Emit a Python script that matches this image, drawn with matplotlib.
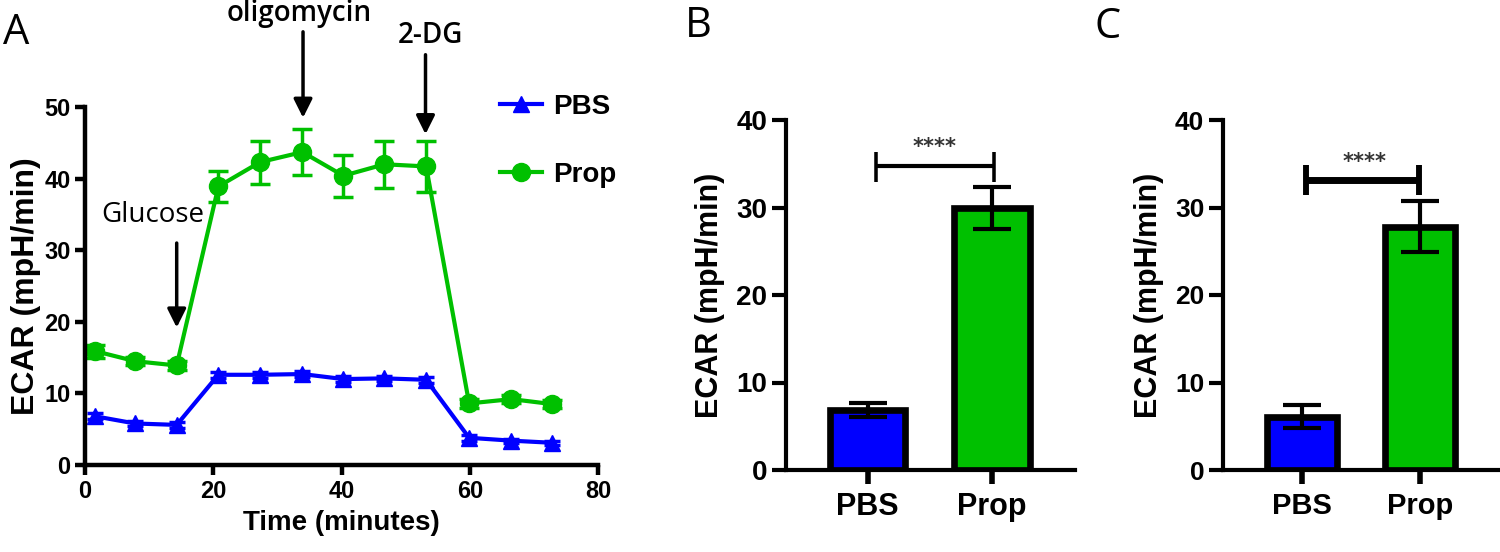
import numpy as np
import matplotlib
matplotlib.use("Agg")
import matplotlib.pyplot as plt
from matplotlib.lines import Line2D

plt.rcParams['font.family'] = ['Liberation Sans', 'DejaVu Sans']

BLUE = "#0000ff"
GREEN = "#00c000"

# panel A: ECAR time course
time_min = [1.6, 7.8, 14.3, 20.8, 27.3, 33.9, 40.3, 46.7, 53.2, 59.9, 66.5, 72.9]
pbs_ecar = [6.8, 5.8, 5.6, 12.6, 12.6, 12.7, 12.0, 12.1, 11.9, 3.8, 3.4, 3.1]
pbs_err = [0.4, 0.4, 0.4, 0.4, 0.4, 0.4, 0.4, 0.4, 0.4, 0.4, 0.3, 0.3]
prop_ecar = [15.9, 14.5, 13.9, 38.9, 42.3, 43.7, 40.4, 42.0, 41.7, 8.6, 9.2, 8.5]
prop_err = [0.9, 0.6, 0.6, 2.1, 3.0, 3.2, 2.9, 3.3, 3.6, 0.6, 0.6, 0.6]

# injections: (label, time, arrow tail, arrow tip, text x, text y)
injections = [
    ("Glucose", 14.3, 31.0, 19.2, 10.6, 34.9),
    ("oligomycin", 34.0, 60.5, 48.5, 33.4, 63.0),
    ("2-DG", 53.1, 57.3, 46.2, 53.8, 60.0),
]

# panels B and C: bars
groups = ["PBS", "Prop"]
b_means = [6.9, 29.9]
b_err = [0.8, 2.4]
c_means = [6.1, 27.8]
c_err = [1.3, 2.9]

fig = plt.figure(figsize=(15, 5.52), dpi=100)

# ---------------- A ----------------
axA = fig.add_axes([85 / 1500, 1 - 465 / 552, 513 / 1500, 358 / 552])
axA.errorbar(time_min, pbs_ecar, yerr=pbs_err, color=BLUE, marker="^", ms=11,
             lw=3, elinewidth=2.5, capsize=6, capthick=2.5, clip_on=False)
axA.errorbar(time_min, prop_ecar, yerr=prop_err, color=GREEN, marker="o", ms=13,
             lw=3, elinewidth=2.5, capsize=7, capthick=2.5, clip_on=False)
axA.set_xlim(0, 80)
axA.set_ylim(0, 50)
axA.set_xticks([0, 20, 40, 60, 80])
axA.set_yticks([0, 10, 20, 30, 40, 50])
for s in ["top", "right"]:
    axA.spines[s].set_visible(False)
for s in ["left", "bottom"]:
    axA.spines[s].set_linewidth(3.2)
axA.tick_params(width=3.2, length=7, labelsize=17)
for lab in axA.get_xticklabels() + axA.get_yticklabels():
    lab.set_fontweight("bold")
axA.set_xlabel("Time (minutes)", fontsize=20, fontweight="bold", labelpad=5)
axA.set_ylabel("ECAR (mpH/min)", fontsize=23, fontweight="bold", labelpad=2)

for name, t, tail, tip, tx, ty in injections:
    axA.annotate("", xy=(t, tip), xytext=(t, tail),
                 arrowprops=dict(arrowstyle="-|>", lw=2.5, color="black",
                                 mutation_scale=28, shrinkA=0, shrinkB=0),
                 annotation_clip=False)
    w = "normal" if name == "Glucose" else "semibold"
    axA.text(tx, ty, name, ha="center", va="center", fontsize=20,
             family="Open Sans", fontweight=w, clip_on=False)

handles = [Line2D([], [], color=BLUE, marker="^", ms=11, lw=3),
           Line2D([], [], color=GREEN, marker="o", ms=13, lw=3)]
fig.legend(handles, groups, loc="center left", frameon=False,
           bbox_to_anchor=(486 / 1500, 1 - 141 / 552), borderpad=0,
           handlelength=1.5, handletextpad=0.4, labelspacing=1.5,
           prop=dict(size=20, weight="bold"))

fig.text(16 / 1500, 1 - 33 / 552, "A", fontsize=30, family="Open Sans",
         ha="center", va="center")


def bar_panel(rect, means, errs, xlim, width, bracket, stars_xy, br_lw,
              ylab_size, ytick_size, xtick_size):
    ax = fig.add_axes(rect)
    ax.bar([0, 1], means, width=width, color=[BLUE, GREEN],
           edgecolor="black", linewidth=4.8, zorder=2)
    ax.errorbar([0, 1], means, yerr=errs, fmt="none", ecolor="black",
                elinewidth=3, capsize=14, capthick=3, zorder=3)
    x0, x1, h, lo, hi = bracket
    ax.plot([x0, x1], [h, h], color="black", lw=br_lw, solid_capstyle="butt")
    ax.plot([x0, x0], [lo, hi], color="black", lw=br_lw * 0.85, solid_capstyle="butt")
    ax.plot([x1, x1], [lo, hi], color="black", lw=br_lw * 0.85, solid_capstyle="butt")
    ax.text(stars_xy[0], stars_xy[1], "****", ha="center", va="center",
            fontsize=15, color="#333333", family="DejaVu Sans", fontweight="bold")
    ax.set_xlim(*xlim)
    ax.set_ylim(0, 40)
    ax.set_yticks([0, 10, 20, 30, 40])
    ax.set_xticks([0, 1])
    ax.set_xticklabels(groups)
    for s in ["top", "right"]:
        ax.spines[s].set_visible(False)
    for s in ["left", "bottom"]:
        ax.spines[s].set_linewidth(3)
    ax.tick_params(axis="y", width=3, length=10, labelsize=ytick_size)
    ax.tick_params(axis="x", width=4, length=10, labelsize=xtick_size, pad=6)
    for lab in ax.get_xticklabels() + ax.get_yticklabels():
        lab.set_fontweight("bold")
    ax.set_ylabel("ECAR (mpH/min)", fontsize=ylab_size, fontweight="bold", labelpad=8)
    return ax


bar_panel([786 / 1500, 1 - 470 / 552, 289 / 1500, 350 / 552], b_means, b_err,
          (-0.655, 1.667), 0.61, (0.07, 1.02, 34.7, 32.9, 36.4), (0.54, 36.9),
          3.0, 22, 20, 22)
fig.text(698 / 1500, 1 - 26 / 552, "B", fontsize=30, family="Open Sans",
         ha="center", va="center")

bar_panel([1223 / 1500, 1 - 470 / 552, 277 / 1500, 350 / 552], c_means, c_err,
          (-0.67, 1.68), 0.59, (0.03, 0.99, 33.2, 31.4, 34.9), (0.53, 35.2),
          5.0, 22, 19, 21)
fig.text(1108 / 1500, 1 - 27 / 552, "C", fontsize=30, family="Open Sans",
         ha="center", va="center")

fig.savefig("out.png", dpi=100)
